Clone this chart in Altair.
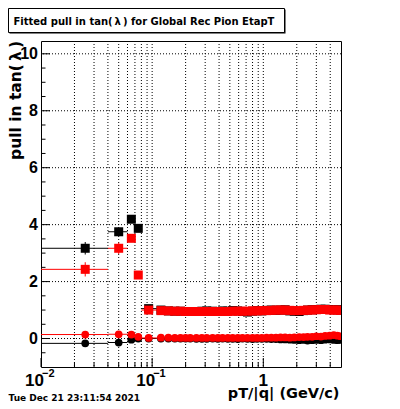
import altair as alt
import pandas as pd

# ---------------- data ----------------
# first (wide) bins
x_early = [0.025, 0.05, 0.065, 0.075, 0.093]
xlo_early = [0.01, 0.04, 0.06, 0.07, 0.08]
xhi_early = [0.04, 0.06, 0.07, 0.08, 0.11]
black_sq_early = [3.17, 3.75, 4.19, 3.87, 1.05]
black_sq_err_early = [0.22, 0.06, 0.08, 0.06, 0.03]
red_sq_early = [2.43, 3.17, 3.52, 2.23, 1.00]
red_sq_err_early = [0.25, 0.20, 0.12, 0.06, 0.03]
black_c_early = [-0.17, -0.14, -0.04, 0.00, 0.00]
red_c_early = [0.14, 0.15, 0.14, 0.06, 0.02]
c_err_early = [0.05, 0.04, 0.03, 0.02, 0.02]

# dense bins above 0.1 GeV/c
x_dense = [0.12, 0.14, 0.16, 0.18, 0.20, 0.22, 0.25, 0.28, 0.31, 0.35, 0.39, 0.43,
           0.48, 0.53, 0.59, 0.65, 0.72, 0.80, 0.88, 0.97, 1.07, 1.18, 1.30, 1.43,
           1.57, 1.73, 1.90, 2.10, 2.30, 2.50, 2.75, 3.00, 3.30, 3.60, 3.95, 4.30,
           4.65, 4.95]
red_sq_dense = [0.98, 0.97, 0.96, 0.96, 0.95, 0.95, 0.95, 0.95, 0.95, 0.95, 0.95, 0.95,
                0.95, 0.96, 0.96, 0.96, 0.96, 0.97, 0.97, 0.98, 0.98, 0.99, 1.00, 1.00,
                1.00, 0.99, 0.98, 0.98, 0.99, 1.00, 1.00, 1.01, 1.02, 1.02, 1.00, 1.00,
                1.00, 0.99]
black_sq_dense = [1.00, 0.97, 0.96, 0.96, 0.95, 0.95, 0.95, 0.96, 0.97, 0.96, 0.95, 0.97,
                  0.96, 0.98, 0.97, 0.95, 0.93, 0.96, 0.98, 0.97, 0.99, 1.00, 0.99, 1.00,
                  1.01, 0.97, 0.96, 0.95, 0.98, 1.00, 1.01, 1.02, 1.03, 1.03, 1.02, 1.01,
                  1.01, 1.00]
red_c_dense = [0.03, 0.03, 0.02, 0.02, 0.02, 0.02, 0.02, 0.02, 0.02, 0.02, 0.02, 0.02,
               0.02, 0.02, 0.02, 0.02, 0.02, 0.02, 0.02, 0.02, 0.03, 0.03, 0.03, 0.04,
               0.04, 0.03, 0.04, 0.05, 0.05, 0.06, 0.06, 0.08, 0.07, 0.09, 0.10, 0.12,
               0.10, 0.08]
black_c_dense = [0.00, 0.00, 0.00, 0.00, 0.00, 0.00, -0.01, -0.01, -0.01, 0.00, -0.01, 0.00,
                 -0.01, -0.01, -0.02, 0.00, -0.01, -0.02, -0.01, -0.01, -0.01, -0.02, -0.02, -0.03,
                 -0.03, -0.04, -0.05, -0.06, -0.05, -0.07, -0.06, -0.05, -0.06, -0.04, -0.03, -0.05,
                 -0.06, -0.05]

grid_x_vals = [0.02, 0.03, 0.04, 0.05, 0.06, 0.07, 0.08, 0.09, 0.1,
               0.2, 0.3, 0.4, 0.5, 0.6, 0.7, 0.8, 0.9, 1, 2, 3, 4]
grid_y_vals = [0, 2, 4, 6, 8, 10]
xmajor_ticks = [0.01, 0.1, 1]
xminor_ticks = [0.02, 0.03, 0.04, 0.05, 0.06, 0.07, 0.08, 0.09,
                0.2, 0.3, 0.4, 0.5, 0.6, 0.7, 0.8, 0.9, 2, 3, 4]
ymajor_ticks = [0, 2, 4, 6, 8, 10]
yminor_ticks = [-0.5, 0.5, 1, 1.5, 2.5, 3, 3.5, 4.5, 5, 5.5, 6.5, 7, 7.5, 8.5, 9, 9.5]
ylabels = ["0", "2", "4", "6", "8", "10"]
xlabel_pos = [0.01, 0.1]
xlabel_base = ["10", "10"]
xlabel_exp = ["\u22122", "\u22121"]

TITLE = "Fitted pull in tan(\u2009\u03bb\u2009) for Global Rec Pion EtapT"
YTITLE = "pull in tan(\u2009\u03bb\u2009)"
XTITLE = "pT/|q| (GeV/c)"
DATE = "Tue Dec 21 23:11:54 2021"

W, H = 300, 326

# ---------------- frames ----------------
def make_df(xs, xlo, xhi, ys, errs):
    return pd.DataFrame({"x": xs, "xlo": xlo, "xhi": xhi, "y": ys,
                         "ylo": [a - b for a, b in zip(ys, errs)],
                         "yhi": [a + b for a, b in zip(ys, errs)]})

# bin edges for dense part: geometric mid-points between neighbours
edges = [0.11] + [(a * b) ** 0.5 for a, b in zip(x_dense[:-1], x_dense[1:])] + [5.0]
xlo_dense = edges[:-1]
xhi_dense = edges[1:]
zeros = [0.0] * len(x_dense)

black_sq = make_df(x_early + x_dense, xlo_early + xlo_dense, xhi_early + xhi_dense,
                   black_sq_early + black_sq_dense, black_sq_err_early + zeros)
red_sq = make_df(x_early + x_dense, xlo_early + xlo_dense, xhi_early + xhi_dense,
                 red_sq_early + red_sq_dense, red_sq_err_early + zeros)
black_c = make_df(x_early + x_dense, xlo_early + xlo_dense, xhi_early + xhi_dense,
                  black_c_early + black_c_dense, c_err_early + zeros)
red_c = make_df(x_early + x_dense, xlo_early + xlo_dense, xhi_early + xhi_dense,
                red_c_early + red_c_dense, c_err_early + zeros)

xs = alt.Scale(type="log", domain=[0.01, 5], nice=False)
ys = alt.Scale(domain=[-1, 10.45], nice=False, zero=False)

def X(f="x"):
    return alt.X(f"{f}:Q", scale=xs, axis=None)

def Y(f="y"):
    return alt.Y(f"{f}:Q", scale=ys, axis=None)

layers = []

# grid
layers.append(alt.Chart(pd.DataFrame({"v": grid_x_vals})).mark_rule(
    color="black", strokeWidth=1, strokeDash=[1, 2]).encode(x=X("v")))
layers.append(alt.Chart(pd.DataFrame({"v": grid_y_vals})).mark_rule(
    color="black", strokeWidth=1, strokeDash=[1, 2]).encode(y=Y("v")))

# ticks (inside)
layers.append(alt.Chart(pd.DataFrame({"v": xmajor_ticks})).mark_rule(
    color="black", strokeWidth=1).encode(x=X("v"), y=alt.value(H), y2=alt.value(H - 9)))
layers.append(alt.Chart(pd.DataFrame({"v": xminor_ticks})).mark_rule(
    color="black", strokeWidth=1).encode(x=X("v"), y=alt.value(H), y2=alt.value(H - 4.5)))
layers.append(alt.Chart(pd.DataFrame({"v": ymajor_ticks})).mark_rule(
    color="black", strokeWidth=1).encode(y=Y("v"), x=alt.value(0), x2=alt.value(9)))
layers.append(alt.Chart(pd.DataFrame({"v": yminor_ticks})).mark_rule(
    color="black", strokeWidth=1).encode(y=Y("v"), x=alt.value(0), x2=alt.value(4.5)))

# data series
def series(df, color, shape, size):
    base = alt.Chart(df)
    h = base.mark_rule(color=color, strokeWidth=1, clip=True).encode(
        x=X("xlo"), x2="xhi:Q", y=Y("y"))
    v = base.mark_rule(color=color, strokeWidth=1, clip=True).encode(
        x=X("x"), y=Y("ylo"), y2="yhi:Q")
    p = base.mark_point(shape=shape, filled=True, opacity=1, color=color,
                        size=size, clip=True).encode(x=X("x"), y=Y("y"))
    return [h, v, p]

layers += series(black_sq, "black", "square", 81)
layers += series(black_c, "black", "circle", 60)
layers += series(red_sq, "#ff0000", "square", 81)
layers += series(red_c, "#ff0000", "circle", 60)

# y tick labels
layers.append(alt.Chart(pd.DataFrame({"v": ymajor_ticks, "t": ylabels})).mark_text(
    align="right", baseline="middle", font="Liberation Sans", fontWeight="bold",
    fontSize=16, color="black").encode(y=Y("v"), x=alt.value(-3), text="t:N"))

# x tick labels
layers.append(alt.Chart(pd.DataFrame({"v": xlabel_pos, "t": xlabel_base})).mark_text(
    align="right", baseline="alphabetic", font="Liberation Sans", fontWeight="bold",
    fontSize=17, dx=3, color="black").encode(x=X("v"), y=alt.value(H + 18.5), text="t:N"))
layers.append(alt.Chart(pd.DataFrame({"v": xlabel_pos, "t": xlabel_exp})).mark_text(
    align="left", baseline="alphabetic", font="Liberation Sans", fontWeight="bold",
    fontSize=11, dx=1, color="black").encode(x=X("v"), y=alt.value(H + 9.5), text="t:N"))
layers.append(alt.Chart(pd.DataFrame({"v": [1], "t": ["1"]})).mark_text(
    align="center", baseline="alphabetic", font="Liberation Sans", fontWeight="bold",
    fontSize=17, color="black").encode(x=X("v"), y=alt.value(H + 18.5), text="t:N"))

# axis titles
layers.append(alt.Chart(pd.DataFrame({"t": [XTITLE]})).mark_text(
    align="right", baseline="alphabetic", font="DejaVu Sans", fontWeight="bold",
    fontSize=14.5, color="black").encode(x=alt.value(W - 1.5), y=alt.value(H + 30.5), text="t:N"))
layers.append(alt.Chart(pd.DataFrame({"t": [YTITLE]})).mark_text(
    align="right", baseline="alphabetic", font="DejaVu Sans", fontWeight="bold",
    fontSize=15.5, angle=270, color="black").encode(
    x=alt.value(-20), y=alt.value(0), text="t:N"))

# header box
layers.append(alt.Chart(pd.DataFrame({"a": [0]})).mark_rect(
    fill="black").encode(x=alt.value(-31.5), x2=alt.value(244.5),
                          y=alt.value(-31.5), y2=alt.value(-7.5)))
layers.append(alt.Chart(pd.DataFrame({"a": [0]})).mark_rect(
    fill="white", stroke="black", strokeWidth=1).encode(
    x=alt.value(-32.5), x2=alt.value(243.5), y=alt.value(-32.5), y2=alt.value(-8.5)))
layers.append(alt.Chart(pd.DataFrame({"t": [TITLE]})).mark_text(
    align="left", baseline="alphabetic", font="DejaVu Sans", fontWeight="bold",
    fontSize=10, color="black").encode(x=alt.value(-27.5), y=alt.value(-16.5), text="t:N"))

# date
layers.append(alt.Chart(pd.DataFrame({"t": [DATE]})).mark_text(
    align="left", baseline="alphabetic", font="DejaVu Sans", fontWeight="bold",
    fontSize=9, color="black").encode(x=alt.value(-32.5), y=alt.value(H + 33.5), text="t:N"))

chart = alt.layer(*layers).properties(
    width=W, height=H,
    autosize=alt.AutoSizeParams(type="none"),
    padding={"left": 33, "top": 33, "right": 51, "bottom": 34},
    background="white",
).configure_view(stroke="black", strokeWidth=1)

chart.save("out.html", embed_options={"renderer": "svg", "actions": False})
